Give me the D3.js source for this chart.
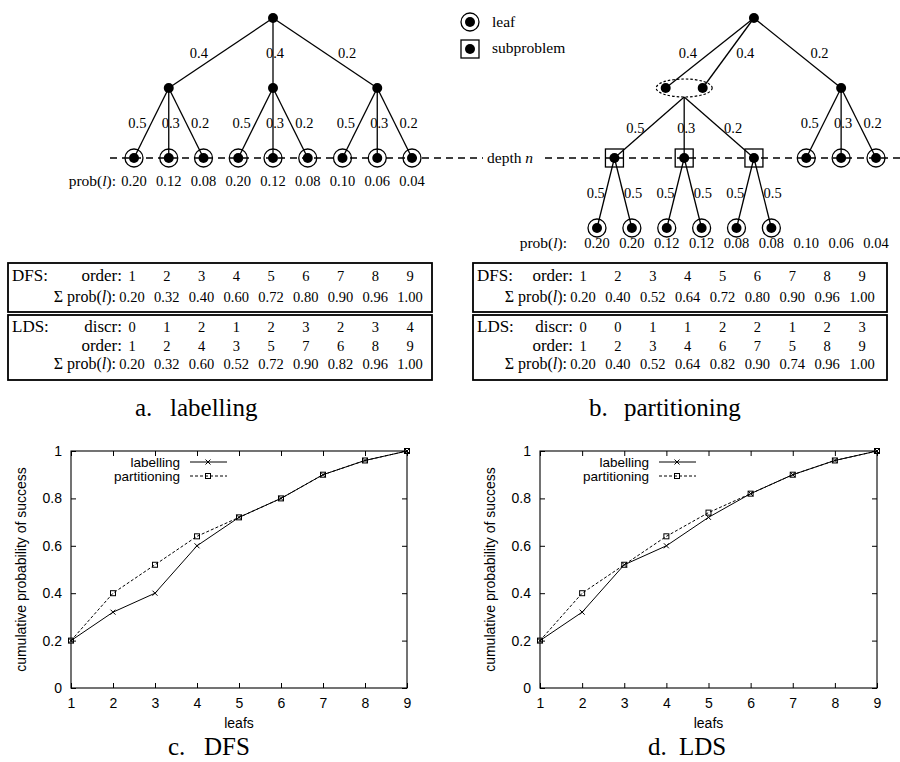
<!DOCTYPE html>
<html><head><meta charset="utf-8">
<script src="https://cdn.jsdelivr.net/npm/d3@7"></script>
<style>body{margin:0;background:#fff}</style>
</head><body><svg id="fig" width="900" height="762" xmlns="http://www.w3.org/2000/svg"></svg>
<script>
// ---------------- data ----------------
const branchProbsTop = [0.4, 0.4, 0.2];
const branchProbsMid = [0.5, 0.3, 0.2];
const branchProbsSplit = [0.5, 0.5];
const leafProbLabelling = [0.20, 0.12, 0.08, 0.20, 0.12, 0.08, 0.10, 0.06, 0.04];
const leafProbPartitioning = [0.20, 0.20, 0.12, 0.12, 0.08, 0.08, 0.10, 0.06, 0.04];

const dfsOrderA = [1, 2, 3, 4, 5, 6, 7, 8, 9];
const dfsSumA = [0.20, 0.32, 0.40, 0.60, 0.72, 0.80, 0.90, 0.96, 1.00];
const ldsDiscrA = [0, 1, 2, 1, 2, 3, 2, 3, 4];
const ldsOrderA = [1, 2, 4, 3, 5, 7, 6, 8, 9];
const ldsSumA = [0.20, 0.32, 0.60, 0.52, 0.72, 0.90, 0.82, 0.96, 1.00];

const dfsOrderB = [1, 2, 3, 4, 5, 6, 7, 8, 9];
const dfsSumB = [0.20, 0.40, 0.52, 0.64, 0.72, 0.80, 0.90, 0.96, 1.00];
const ldsDiscrB = [0, 0, 1, 1, 2, 2, 1, 2, 3];
const ldsOrderB = [1, 2, 3, 4, 6, 7, 5, 8, 9];
const ldsSumB = [0.20, 0.40, 0.52, 0.64, 0.82, 0.90, 0.74, 0.96, 1.00];

const leafs = [1, 2, 3, 4, 5, 6, 7, 8, 9];
const dfsLabelling = [0.20, 0.32, 0.40, 0.60, 0.72, 0.80, 0.90, 0.96, 1.00];
const dfsPartitioning = [0.20, 0.40, 0.52, 0.64, 0.72, 0.80, 0.90, 0.96, 1.00];
const ldsLabelling = [0.20, 0.32, 0.52, 0.60, 0.72, 0.82, 0.90, 0.96, 1.00];
const ldsPartitioning = [0.20, 0.40, 0.52, 0.64, 0.74, 0.82, 0.90, 0.96, 1.00];
const yTickValues = [0, 0.2, 0.4, 0.6, 0.8, 1];
const xTickValues = [1, 2, 3, 4, 5, 6, 7, 8, 9];
const seriesNames = ["labelling", "partitioning"];

// ---------------- drawing ----------------
const svg = d3.select("#fig");
const SERIF = "'Liberation Serif','Times New Roman',serif";
const SANS = "'Liberation Sans',Arial,Helvetica,sans-serif";
const fmt1 = d3.format(".1f"), fmt2 = d3.format(".2f");
const TREE_NUM = 14.5, TREE_TXT = 15.5;

const yLevel = d3.scaleLinear().domain([0, 3]).range([18, 228]);
const xA = d3.scaleLinear().domain([0, 8]).range([134, 412]);
const xB = d3.scaleLinear().domain([0, 8]).range([597, 876]);

const gTree = svg.append("g");

// depth line
const depthY = yLevel(2);
gTree.selectAll("line.depth").data([[110, 483], [545, 900]]).join("line")
  .attr("x1", d => d[0]).attr("x2", d => d[1]).attr("y1", depthY).attr("y2", depthY)
  .attr("stroke", "#000").attr("stroke-width", 1.4).attr("stroke-dasharray", "7,5");
const dt = gTree.append("text").attr("x", 487).attr("y", depthY + 5)
  .attr("font-family", SERIF).attr("font-size", TREE_TXT);
dt.append("tspan").text("depth ");
dt.append("tspan").attr("font-style", "italic").text("n");

function drawEdges(edges) {
  gTree.selectAll(null).data(edges).join("line")
    .attr("x1", d => d.a[0]).attr("y1", d => d.a[1])
    .attr("x2", d => d.b[0]).attr("y2", d => d.b[1])
    .attr("stroke", "#000").attr("stroke-width", 1.3);
  gTree.selectAll(null).data(edges).join("text")
    .attr("x", d => {
      const mx = (d.a[0] + d.b[0]) / 2, dx = d.b[0] - d.a[0];
      if (d.off !== undefined) return mx + d.off;
      return mx + (Math.abs(dx) < 1 ? 2 : Math.sign(dx) * d.k);
    })
    .attr("y", d => (d.a[1] + d.b[1]) / 2 + 5)
    .attr("text-anchor", "middle").attr("font-family", SERIF).attr("font-size", TREE_NUM)
    .text(d => fmt1(d.p));
}
function dot(x, y) {
  gTree.append("circle").attr("cx", x).attr("cy", y).attr("r", 5).attr("fill", "#000");
}
function leaf(x, y) {
  gTree.append("circle").attr("cx", x).attr("cy", y).attr("r", 9)
    .attr("fill", "none").attr("stroke", "#000").attr("stroke-width", 1.3);
  dot(x, y);
}
function sub(x, y) {
  gTree.append("rect").attr("x", x - 9).attr("y", y - 9).attr("width", 18).attr("height", 18)
    .attr("fill", "none").attr("stroke", "#000").attr("stroke-width", 1.3);
  dot(x, y);
}
function probRow(xs, probs, rightX, y) {
  const t = gTree.append("text").attr("x", rightX).attr("y", y).attr("text-anchor", "end")
    .attr("font-family", SERIF).attr("font-size", TREE_TXT);
  t.append("tspan").text("prob(");
  t.append("tspan").attr("font-style", "italic").text("l");
  t.append("tspan").text("):");
  gTree.selectAll(null).data(probs).join("text")
    .attr("x", (d, i) => xs(i)).attr("y", y).attr("text-anchor", "middle")
    .attr("font-family", SERIF).attr("font-size", TREE_NUM).text(d => fmt2(d));
}

// ---- tree a ----
{
  const root = [xA(4), yLevel(0)];
  const lv1 = [0, 1, 2].map(i => [xA(3 * i + 1), yLevel(1)]);
  const lvs = d3.range(9).map(j => [xA(j), yLevel(2)]);
  const edges = [];
  lv1.forEach((n, i) => edges.push({a: root, b: n, p: branchProbsTop[i], k: 22}));
  lv1.forEach((n, i) => branchProbsMid.forEach((p, k) => edges.push({a: n, b: lvs[3 * i + k], p, k: 14})));
  drawEdges(edges);
  dot(...root); lv1.forEach(n => dot(...n)); lvs.forEach(n => leaf(...n));
  probRow(xA, leafProbLabelling, 116, 186);
}

// ---- tree b ----
{
  const root = [xB(4.5), yLevel(0)];
  const pairC = [xB(2.5), yLevel(1)];
  const pair = [[xB(1.97), yLevel(1)], [xB(3.03), yLevel(1)]];
  const right = [xB(7), yLevel(1)];
  const subs = [0, 1, 2].map(i => [xB(2 * i + 0.5), yLevel(2)]);
  const rLeaves = [6, 7, 8].map(j => [xB(j), yLevel(2)]);
  const bLeaves = d3.range(6).map(j => [xB(j), yLevel(3)]);
  const edges = [
    {a: root, b: pair[0], p: branchProbsTop[0], off: -22},
    {a: root, b: pair[1], p: branchProbsTop[1], off: 17},
    {a: root, b: right, p: branchProbsTop[2], off: 22}
  ];
  const eb = [pairC[0], pairC[1] + 9];
  subs.forEach((s, k) => edges.push({a: eb, b: s, p: branchProbsMid[k], k: 14}));
  rLeaves.forEach((l, k) => edges.push({a: right, b: l, p: branchProbsMid[k], k: 14}));
  subs.forEach((s, i) => branchProbsSplit.forEach((p, k) => edges.push({a: s, b: bLeaves[2 * i + k], p, k: 10})));
  drawEdges(edges);
  gTree.append("ellipse").attr("cx", pairC[0]).attr("cy", pairC[1]).attr("rx", 28).attr("ry", 9)
    .attr("fill", "none").attr("stroke", "#000").attr("stroke-width", 1.2).attr("stroke-dasharray", "2.5,2");
  dot(...root); pair.forEach(n => dot(...n)); dot(...right);
  subs.forEach(n => sub(...n)); rLeaves.forEach(n => leaf(...n)); bLeaves.forEach(n => leaf(...n));
  probRow(xB, leafProbPartitioning, 567, 248);

  // legend
  leaf(470, 22);
  gTree.append("text").attr("x", 492).attr("y", 27).attr("font-family", SERIF).attr("font-size", TREE_TXT).text("leaf");
  sub(470, 49);
  gTree.append("text").attr("x", 492).attr("y", 53).attr("font-family", SERIF).attr("font-size", TREE_TXT).text("subproblem");
}

// ---------------- tables ----------------
function drawTable(x0, x1, colScale, dfsOrder, dfsSum, ldsDiscr, ldsOrder, ldsSum) {
  const g = svg.append("g").attr("font-family", SERIF);
  g.append("rect").attr("x", x0).attr("y", 263).attr("width", x1 - x0).attr("height", 49)
    .attr("fill", "none").attr("stroke", "#000").attr("stroke-width", 1.8);
  g.append("rect").attr("x", x0).attr("y", 315).attr("width", x1 - x0).attr("height", 65)
    .attr("fill", "none").attr("stroke", "#000").attr("stroke-width", 1.8);
  const c0 = colScale(0);
  const rows = [
    {head: "DFS:", label: "order:", vals: dfsOrder, y: 281, f: String},
    {label: "sum", vals: dfsSum, y: 302, f: fmt2},
    {head: "LDS:", label: "discr:", vals: ldsDiscr, y: 332, f: String},
    {label: "order:", vals: ldsOrder, y: 350.5, f: String},
    {label: "sum", vals: ldsSum, y: 369, f: fmt2}
  ];
  rows.forEach(r => {
    if (r.head) g.append("text").attr("x", x0 + 4).attr("y", r.y).attr("font-size", 17).text(r.head);
    if (r.label === "sum") {
      const t = g.append("text").attr("x", c0 - 16).attr("y", r.y).attr("text-anchor", "end").attr("font-size", 16);
      t.append("tspan").text("\u03A3 prob(");
      t.append("tspan").attr("font-style", "italic").text("l");
      t.append("tspan").text("):");
    } else {
      g.append("text").attr("x", c0 - 10).attr("y", r.y).attr("text-anchor", "end").attr("font-size", 17).text(r.label);
    }
    g.selectAll(null).data(r.vals).join("text")
      .attr("x", (d, i) => colScale(i)).attr("y", r.y).attr("text-anchor", "middle")
      .attr("font-size", 14.5).text(d => r.f(d));
  });
}
drawTable(8, 432, d3.scaleLinear().domain([0, 8]).range([132, 410]), dfsOrderA, dfsSumA, ldsDiscrA, ldsOrderA, ldsSumA);
drawTable(473, 887, d3.scaleLinear().domain([0, 8]).range([583, 862]), dfsOrderB, dfsSumB, ldsDiscrB, ldsOrderB, ldsSumB);

// ---------------- captions ----------------
function caption(xLetter, xWord, y, size, letter, word) {
  const g = svg.append("g").attr("font-family", SERIF).attr("font-size", size);
  g.append("text").attr("x", xLetter).attr("y", y).text(letter);
  g.append("text").attr("x", xWord).attr("y", y).text(word);
}
caption(135, 170, 416, 25, "a.", "labelling");
caption(589, 624, 416, 25, "b.", "partitioning");
caption(168, 204, 755, 25, "c.", "DFS");
caption(648, 679, 755, 25, "d.", "LDS");

// ---------------- line charts ----------------
function drawChart(x0, x1, labelling, partitioning) {
  const yT = 451, yB = 688;
  const x = d3.scaleLinear().domain([1, 9]).range([x0, x1]);
  const y = d3.scaleLinear().domain([0, 1]).range([yB, yT]);
  const g = svg.append("g");
  const tickLen = 5;
  const fmtY = d3.format("~g");
  const axB = g.append("g").attr("transform", `translate(0,${yB})`)
    .call(d3.axisBottom(x).tickValues(xTickValues).tickSizeInner(-tickLen).tickSizeOuter(0).tickPadding(10).tickFormat(d3.format("d")));
  const axT = g.append("g").attr("transform", `translate(0,${yT})`)
    .call(d3.axisTop(x).tickValues(xTickValues).tickSizeInner(-tickLen).tickSizeOuter(0).tickFormat(""));
  const axL = g.append("g").attr("transform", `translate(${x0},0)`)
    .call(d3.axisLeft(y).tickValues(yTickValues).tickSizeInner(-tickLen).tickSizeOuter(0).tickPadding(9).tickFormat(fmtY));
  const axR = g.append("g").attr("transform", `translate(${x1},0)`)
    .call(d3.axisRight(y).tickValues(yTickValues).tickSizeInner(-tickLen).tickSizeOuter(0).tickFormat(""));
  [axB, axT, axL, axR].forEach(a => {
    a.selectAll(".domain").remove();
    a.selectAll(".tick line").attr("stroke", "#000").attr("stroke-width", 1);
    a.selectAll("text").attr("font-family", SANS).attr("font-size", 14).attr("fill", "#000");
  });
  g.append("rect").attr("x", x0).attr("y", yT).attr("width", x1 - x0).attr("height", yB - yT)
    .attr("fill", "none").attr("stroke", "#000").attr("stroke-width", 1.1);

  // axis titles
  g.append("text").attr("x", (x0 + x1) / 2).attr("y", 728).attr("text-anchor", "middle")
    .attr("font-family", SANS).attr("font-size", 14).text("leafs");
  g.append("text").attr("transform", `translate(${x0 - 45},${(yT + yB) / 2}) rotate(-90)`)
    .attr("text-anchor", "middle").attr("font-family", SANS).attr("font-size", 14)
    .text("cumulative probability of success");

  const line = d3.line().x((d, i) => x(leafs[i])).y(d => y(d));
  const styles = [{dash: null}, {dash: "3,2"}];
  [labelling, partitioning].forEach((vals, s) => {
    g.append("path").datum(vals).attr("d", line).attr("fill", "none")
      .attr("stroke", "#000").attr("stroke-width", 1)
      .attr("stroke-dasharray", styles[s].dash);
  });
  function marker(s, cx, cy) {
    if (s === 0) {
      g.append("path").attr("d", `M${cx - 2.5},${cy - 2.5}L${cx + 2.5},${cy + 2.5}M${cx - 2.5},${cy + 2.5}L${cx + 2.5},${cy - 2.5}`)
        .attr("stroke", "#000").attr("stroke-width", 1);
    } else {
      g.append("rect").attr("x", cx - 2.5).attr("y", cy - 2.5).attr("width", 5).attr("height", 5)
        .attr("fill", "none").attr("stroke", "#000").attr("stroke-width", 1);
    }
  }
  [labelling, partitioning].forEach((vals, s) => vals.forEach((v, i) => marker(s, x(leafs[i]), y(v))));

  // legend
  seriesNames.forEach((name, s) => {
    const ly = yT + 11 + s * 14;
    g.append("text").attr("x", x0 + 109).attr("y", ly + 4.5).attr("text-anchor", "end")
      .attr("font-family", SANS).attr("font-size", 13.5).text(name);
    g.append("line").attr("x1", x0 + 119).attr("x2", x0 + 156).attr("y1", ly).attr("y2", ly)
      .attr("stroke", "#000").attr("stroke-width", 1).attr("stroke-dasharray", styles[s].dash);
    marker(s, x0 + 137, ly);
  });
}
drawChart(71, 407, dfsLabelling, dfsPartitioning);
drawChart(540, 877, ldsLabelling, ldsPartitioning);
</script>
</body></html>
